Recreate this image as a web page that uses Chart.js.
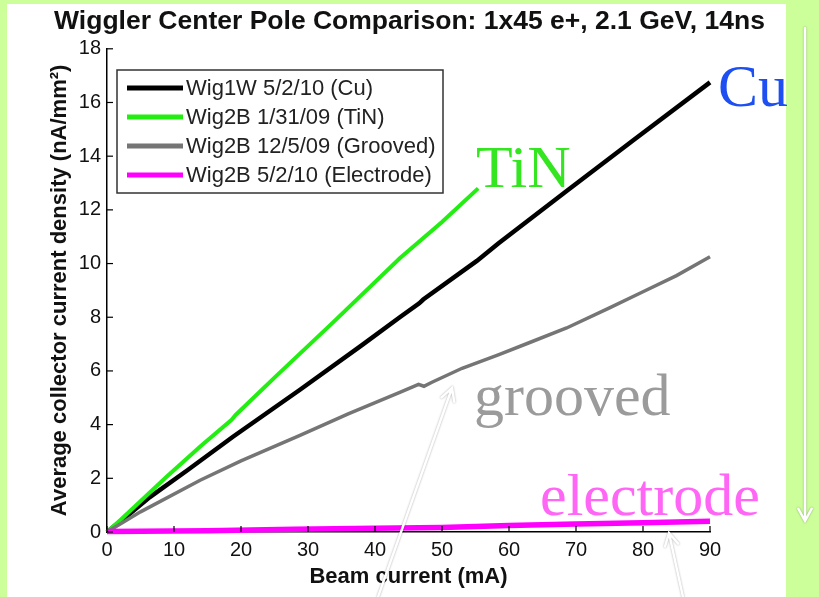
<!DOCTYPE html>
<html>
<head>
<meta charset="utf-8">
<script src="https://cdn.jsdelivr.net/npm/chart.js@4.4.1/dist/chart.umd.min.js"></script>
<style>
  html, body { margin: 0; padding: 0; background: #ccff99; }
  #wrap { width: 819px; height: 597px; }
</style>
</head>
<body>
<div id="wrap"><canvas id="chart" width="819" height="597"></canvas></div>
<script>
// Beam current (mA) / collector current density (nA/mm^2)
const cuCurrent = [0, 3, 6.4, 12, 18.8, 28.8, 38, 43.7, 46.6, 47.2, 55.2, 58.4, 68.6, 78.6, 90];
const cuDensity = [0, 0.6, 1.3, 2.3, 3.55, 5.3, 6.95, 8.0, 8.52, 8.66, 10.1, 10.75, 12.7, 14.6, 16.75];

const tinCurrent = [0, 2, 8.9, 14, 18.6, 19.2, 25, 33.7, 43.7, 50, 55.4];
const tinDensity = [0, 0.45, 2.06, 3.2, 4.18, 4.36, 5.75, 7.8, 10.2, 11.55, 12.8];

const groovedCurrent = [0, 5, 13.9, 20, 28.8, 36, 43.7, 46.5, 47.3, 48.5, 53, 58.4, 63, 68.6, 75, 80, 85, 90];
const groovedDensity = [0, 0.75, 1.93, 2.65, 3.6, 4.4, 5.2, 5.5, 5.43, 5.58, 6.1, 6.6, 7.05, 7.6, 8.35, 8.95, 9.55, 10.25];

const electrodeCurrent = [0, 15, 28, 40, 50, 60, 70, 80, 90];
const electrodeDensity = [0.02, 0.05, 0.1, 0.14, 0.17, 0.24, 0.3, 0.34, 0.4];

const seriesLabels = ['Wig1W 5/2/10 (Cu)', 'Wig2B 1/31/09 (TiN)', 'Wig2B 12/5/09 (Grooved)', 'Wig2B 5/2/10 (Electrode)'];
const seriesColors = ['#000000', '#22ee11', '#757575', '#ff00ff'];
const seriesWidths = [4.5, 4, 3.5, 5.5];

const xTickStep = 10;
const yTickStep = 2;

function toPoints(xs, ys) {
    return xs.map((x, i) => ({ x: x, y: ys[i] }));
}

// big hand-written labels and arrows on top of the slide
const notes = [
    { text: 'Cu', x: 718, y: 106, color: '#1d4ff2' },
    { text: 'TiN', x: 476, y: 187, color: '#33e61f' },
    { text: 'grooved', x: 474, y: 415, color: '#9b9b9b' },
    { text: 'electrode', x: 540, y: 515, color: '#ff66f5' }
];
const arrows = [
    { x1: 378, y1: 597, x2: 452, y2: 388 },
    { x1: 683, y1: 597, x2: 669, y2: 533 },
    { x1: 805, y1: 28, x2: 805, y2: 521 }
];

const panel = {
    id: 'panel',
    beforeDraw(chart) {
        const ctx = chart.ctx;
        ctx.save();
        ctx.fillStyle = '#ccff99';
        ctx.fillRect(0, 0, chart.width, chart.height);
        ctx.fillStyle = '#ffffff';
        ctx.fillRect(7, 4, 779, 593);
        ctx.restore();
    }
};

// MATLAB style ticks pointing into the plot
const innerTicks = {
    id: 'innerTicks',
    afterDatasetsDraw(chart) {
        const { ctx, chartArea, scales } = chart;
        ctx.save();
        ctx.strokeStyle = '#000';
        ctx.lineWidth = 1.2;
        scales.x.ticks.forEach(t => {
            const px = scales.x.getPixelForValue(t.value);
            ctx.beginPath();
            ctx.moveTo(px, chartArea.bottom);
            ctx.lineTo(px, chartArea.bottom - 6);
            ctx.stroke();
        });
        scales.y.ticks.forEach(t => {
            const py = scales.y.getPixelForValue(t.value);
            ctx.beginPath();
            ctx.moveTo(chartArea.left, py);
            ctx.lineTo(chartArea.left + 6, py);
            ctx.stroke();
        });
        ctx.restore();
    }
};

const boxLegend = {
    id: 'boxLegend',
    afterDraw(chart) {
        const ctx = chart.ctx;
        const left = 117, top = 70, w = 326, h = 123;
        ctx.save();
        ctx.fillStyle = '#fff';
        ctx.fillRect(left, top, w, h);
        ctx.strokeStyle = '#333';
        ctx.lineWidth = 1.5;
        ctx.strokeRect(left, top, w, h);
        ctx.font = '22px "Liberation Sans", Arial, sans-serif';
        ctx.textBaseline = 'middle';
        ctx.fillStyle = '#222';
        chart.data.datasets.forEach((ds, i) => {
            const y = top + 18 + i * 29;
            ctx.strokeStyle = ds.borderColor;
            ctx.lineWidth = 5;
            ctx.beginPath();
            ctx.moveTo(127, y);
            ctx.lineTo(183, y);
            ctx.stroke();
            ctx.fillText(ds.label, 186, y + 1);
        });
        ctx.restore();
    }
};

const overlay = {
    id: 'overlay',
    afterDraw(chart) {
        const ctx = chart.ctx;
        ctx.save();
        ctx.font = '60px "Liberation Serif", "Times New Roman", serif';
        ctx.textBaseline = 'alphabetic';
        notes.forEach(n => {
            ctx.fillStyle = n.color;
            ctx.fillText(n.text, n.x, n.y);
        });
        ctx.strokeStyle = '#ffffff';
        ctx.lineWidth = 2.5;
        ctx.lineCap = 'round';
        ctx.shadowColor = 'rgba(0,0,0,0.35)';
        ctx.shadowBlur = 2;
        arrows.forEach(a => {
            const ang = Math.atan2(a.y2 - a.y1, a.x2 - a.x1);
            const len = 14;
            ctx.beginPath();
            ctx.moveTo(a.x1, a.y1);
            ctx.lineTo(a.x2, a.y2);
            ctx.moveTo(a.x2 - len * Math.cos(ang - 0.5), a.y2 - len * Math.sin(ang - 0.5));
            ctx.lineTo(a.x2, a.y2);
            ctx.lineTo(a.x2 - len * Math.cos(ang + 0.5), a.y2 - len * Math.sin(ang + 0.5));
            ctx.stroke();
        });
        ctx.restore();
    }
};

const allCurrents = [cuCurrent, tinCurrent, groovedCurrent, electrodeCurrent];
const allDensities = [cuDensity, tinDensity, groovedDensity, electrodeDensity];

const datasets = seriesLabels.map((label, i) => ({
    label: label,
    data: toPoints(allCurrents[i], allDensities[i]),
    borderColor: seriesColors[i],
    backgroundColor: seriesColors[i],
    borderWidth: seriesWidths[i],
    pointRadius: 0,
    tension: 0,
    clip: false,
    order: 4 - i
}));

new Chart(document.getElementById('chart'), {
    type: 'line',
    data: { datasets: datasets },
    options: {
        responsive: false,
        animation: false,
        devicePixelRatio: 1,
        layout: { padding: 0 },
        plugins: {
            legend: { display: false },
            tooltip: { enabled: false },
            title: {
                display: true,
                text: 'Wiggler Center Pole Comparison: 1x45 e+, 2.1 GeV, 14ns',
                color: '#111',
                font: { family: '"Liberation Sans", Arial, sans-serif', size: 26.5, weight: 'bold' },
                padding: { top: 6, bottom: 11 }
            }
        },
        scales: {
            x: {
                type: 'linear',
                min: 0,
                max: 90,
                ticks: {
                    stepSize: xTickStep,
                    color: '#111',
                    padding: 6,
                    font: { family: '"Liberation Sans", Arial, sans-serif', size: 20 }
                },
                grid: { drawOnChartArea: false, drawTicks: false },
                border: { display: true, color: '#000', width: 1.5 },
                title: {
                    display: true,
                    text: 'Beam current (mA)',
                    color: '#111',
                    font: { family: '"Liberation Sans", Arial, sans-serif', size: 22, weight: 'bold' },
                    padding: { top: 0, bottom: 7 }
                },
                afterFit(scale) { scale.height = 65; }
            },
            y: {
                type: 'linear',
                min: 0,
                max: 18,
                ticks: {
                    stepSize: yTickStep,
                    color: '#111',
                    padding: 6,
                    font: { family: '"Liberation Sans", Arial, sans-serif', size: 20 }
                },
                grid: { drawOnChartArea: false, drawTicks: false },
                border: { display: true, color: '#000', width: 1.5 },
                title: {
                    display: true,
                    text: 'Average collector current density (nA/mm²)',
                    color: '#111',
                    font: { family: '"Liberation Sans", Arial, sans-serif', size: 22, weight: 'bold' },
                    padding: { top: 47, bottom: 0 }
                },
                afterFit(scale) { scale.width = 107; }
            },
            // empty axis that only reserves the margin on the right
            yRight: {
                type: 'linear',
                position: 'right',
                display: true,
                ticks: { display: false },
                grid: { display: false, drawTicks: false },
                border: { display: false },
                afterFit(scale) { scale.width = 109; }
            }
        }
    },
    plugins: [panel, innerTicks, boxLegend, overlay]
});
</script>
</body>
</html>
